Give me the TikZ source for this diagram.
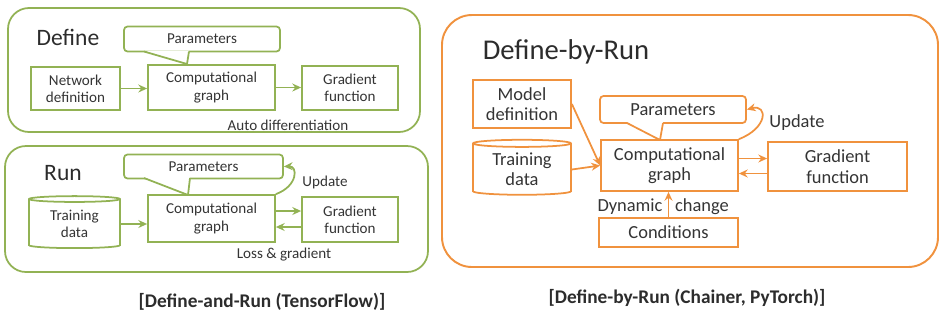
\documentclass[tikz,border=0pt]{standalone}
\usepackage{fontspec}
\setmainfont{Carlito}
\usetikzlibrary{shapes.geometric,arrows.meta}
\definecolor{tfgreen}{RGB}{146,178,84}
\definecolor{chorange}{RGB}{240,146,62}
\definecolor{ink}{RGB}{52,52,52}

\begin{document}
\begin{tikzpicture}[x=0.02cm, y=-0.02cm, line width=1pt,
    box/.style={draw, inner sep=0pt, align=center, text=ink},
    db/.style={cylinder, shape border rotate=90, aspect=0.12, draw, inner sep=0pt, align=center, text=ink},
    lbl/.style={text=ink, inner sep=0pt},
    small/.style={font=\fontsize{8.6}{9.8}\selectfont},
    big/.style={font=\fontsize{10.5}{11.6}\selectfont},
    head/.style={text=ink!85!black, inner sep=0pt},
    flow/.style={-{Stealth[length=5pt,width=4.5pt]}}]
\useasboundingbox (0,0) rectangle (946,319);

                    % Frames
                    \draw[tfgreen, rounded corners=0.42cm] (8,8) rectangle (420,132);
                    \draw[tfgreen, rounded corners=0.42cm] (5,146) rectangle (428,272);
                    \draw[chorange, line width=1.1pt, rounded corners=0.6cm] (442,15) rectangle (938,267);

                    % Define (left, top)
                    \node[head, font=\fontsize{13.4}{15}\selectfont] (defA) at (68,37) {Define};
                    \node[box, draw=tfgreen, small, rounded corners=2pt, minimum width=3.12cm, minimum height=0.5cm] (parA) at (202,39) {Parameters};
                    \node[box, draw=tfgreen, small, minimum width=1.78cm, minimum height=0.86cm] (netA) at (75.5,88.5) {Network\\definition};
                    \node[box, draw=tfgreen, small, minimum width=2.54cm, minimum height=0.9cm] (cgA) at (211.5,87.5) {Computational\\graph};
                    \node[box, draw=tfgreen, small, minimum width=1.92cm, minimum height=0.88cm] (gdA) at (350,88) {Gradient\\function};
                    \node[lbl, small] (autoA) at (288,125) {Auto differentiation};
                    \fill[white] (144,50.6) -- (187,64) -- (189,50.6) -- cycle;
                    \draw[tfgreen, line join=round] (144,51.5) -- (187,64) -- (189,51.5);
                    \draw[tfgreen, flow] (netA) -- (netA -| cgA.west);
                    \draw[tfgreen, flow] (cgA.east) -- (cgA.east -| gdA.west);

                    % Run (left, bottom)
                    \node[head, font=\fontsize{13.4}{15}\selectfont] (runB) at (63,173) {Run};
                    \node[box, draw=tfgreen, small, rounded corners=2pt, minimum width=3.18cm, minimum height=0.48cm] (parB) at (203.5,166.5) {Parameters};
                    \node[db, draw=tfgreen, small, minimum width=1.82cm, minimum height=1.04cm] (tdB) at (74.5,224) {Training\\data};
                    \node[box, draw=tfgreen, small, minimum width=2.54cm, minimum height=0.94cm] (cgB) at (211.5,218.5) {Computational\\graph};
                    \node[box, draw=tfgreen, small, minimum width=1.92cm, minimum height=0.9cm] (gdB) at (350,219.5) {Gradient\\function};
                    \node[lbl, small] (updB) at (325,182) {Update};
                    \node[lbl, small] (lossB) at (284,255) {Loss \& gradient};
                    \fill[white] (144,177.1) -- (188,195) -- (190,177.1) -- cycle;
                    \draw[tfgreen, line join=round] (144,178) -- (188,195) -- (190,178);
                    \draw[tfgreen, flow] (tdB.east) -- (tdB.east -| cgB.west);
                    \draw[tfgreen, flow] ([yshift=0.15cm]cgB.east) -- ([yshift=0.15cm]cgB.east -| gdB.west);
                    \draw[tfgreen, flow] ([yshift=-0.15cm]gdB.west) -- ([yshift=-0.15cm]gdB.west -| cgB.east);
                    \draw[tfgreen, flow] (cgB.north east) .. controls (298,186) and (298,166) .. (parB.east);

                    % Define-by-Run (right)
                    \node[head, font=\fontsize{16.3}{18}\selectfont] (dbrC) at (566,52) {Define-by-Run};
                    \node[box, draw=chorange, big, rounded corners=2pt, minimum width=2.92cm, minimum height=0.54cm] (parC) at (673,109.5) {Parameters};
                    \node[box, draw=chorange, big, minimum width=1.96cm, minimum height=0.96cm] (mdC) at (522,104) {Model\\definition};
                    \node[db, draw=chorange, big, minimum width=1.96cm, minimum height=1.1cm] (tdC) at (522,169.5) {Training\\data};
                    \node[box, draw=chorange, big, minimum width=2.74cm, minimum height=1.02cm] (cgC) at (669.5,165.5) {Computational\\graph};
                    \node[box, draw=chorange, big, minimum width=2.78cm, minimum height=0.98cm] (gdC) at (837.5,166.5) {Gradient\\function};
                    \node[box, draw=chorange, big, minimum width=2.78cm, minimum height=0.58cm] (cnC) at (668.5,232.5) {Conditions};
                    \node[lbl, big] (dynC) at (630,207) {Dynamic};
                    \node[lbl, big] (chgC) at (702,207) {change};
                    \node[lbl, big] (updC) at (797,123) {Update};
                    \fill[white] (627,122) -- (660,140) -- (663,122) -- cycle;
                    \draw[chorange, line join=round] (627,123) -- (660,140) -- (663,123);
                    \draw[chorange, flow] (mdC.east) -- (cgC.west);
                    \draw[chorange, flow] (tdC.east) -- (cgC.west);
                    \draw[chorange, flow] ([yshift=0.14cm]cgC.east) -- ([yshift=0.14cm]cgC.east -| gdC.west);
                    \draw[chorange, flow] ([yshift=-0.14cm]gdC.west) -- ([yshift=-0.14cm]gdC.west -| cgC.east);
                    \draw[chorange, flow] (cnC.north) -- (cnC.north |- cgC.south);
                    \draw[chorange, flow] (cgC.north east) .. controls (768,128) and (768,104) .. (parC.east);

                    % Captions
                    \node[head, font=\bfseries\fontsize{11}{13}\selectfont] (capA) at (262,302) {[Define-and-Run (TensorFlow)]};
                    \node[head, font=\bfseries\fontsize{11}{13}\selectfont] (capC) at (687,298) {[Define-by-Run (Chainer, PyTorch)]};
                \end{tikzpicture}
\end{document}
